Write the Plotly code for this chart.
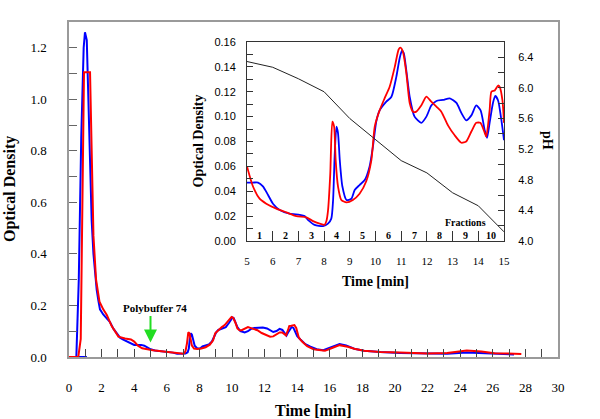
import plotly.graph_objects as go

# ---------------- main chart data (Time [min], Optical Density) ----------------
main_blue_t = [0, 1.1, 0.45, 0.6, 0.75, 0.9, 0.98, 1.09, 1.2, 1.3, 1.39, 1.5, 1.6, 1.7, 1.8, 1.9,
               2.1, 2.3, 2.52, 2.72, 2.93, 3.13, 3.3, 3.6, 3.9,
               4.0, 4.23, 4.43, 4.62, 4.82, 5.01, 5.27, 5.66, 6.05, 6.24, 6.37, 6.63, 6.96, 7.15,
               7.28, 7.35, 7.41, 7.48, 7.54, 7.61, 7.71, 7.87, 8.06, 8.19, 8.38, 8.58, 8.77, 8.90,
               9.03, 9.16, 9.42, 9.62, 9.81, 9.94, 10.03, 10.10, 10.2, 10.33, 10.52, 10.78, 10.98,
               11.17, 11.37, 11.63, 11.89, 12.15, 12.34, 12.53, 12.73, 12.92, 13.09, 13.25, 13.34,
               13.44, 13.57, 13.66, 13.77, 13.90, 14.0,
               14.2, 14.5, 14.81, 15.2, 15.6, 16.0, 16.6, 17.0, 17.5, 18.1, 19.1, 20.3, 22.0, 23.2,
               24.4, 25.3, 26.1, 27.3]
main_blue_v = [0, 0, 0, 0.3, 0.85, 1.2, 1.26, 1.23, 1.0, 0.75, 0.53, 0.40, 0.325, 0.26, 0.22, 0.185,
               0.165, 0.15, 0.135, 0.11, 0.09, 0.075, 0.068, 0.06, 0.052,
               0.047, 0.047, 0.047, 0.044, 0.037, 0.030, 0.025, 0.022, 0.021, 0.020, 0.017, 0.013, 0.012, 0.014,
               0.018, 0.033, 0.068, 0.092, 0.087, 0.065, 0.044, 0.033, 0.034, 0.041, 0.045, 0.049, 0.060, 0.076,
               0.096, 0.105, 0.112, 0.116, 0.132, 0.147, 0.153, 0.151, 0.137, 0.116, 0.100, 0.095, 0.100,
               0.109, 0.1126, 0.1134, 0.1147, 0.111, 0.103, 0.097, 0.101, 0.109, 0.105, 0.089, 0.083,
               0.095, 0.111, 0.1166, 0.113, 0.097, 0.081,
               0.068, 0.05, 0.04, 0.03, 0.026, 0.035, 0.05, 0.045, 0.032, 0.024, 0.019, 0.016, 0.013, 0.013,
               0.017, 0.015, 0.011, 0.010]

main_red_t = [0, 0.57, 0.72, 0.92, 1.29, 1.39, 1.5, 1.66, 1.87, 2.1, 2.32, 2.62, 3.03, 3.44, 3.8,
              4.0, 4.23, 4.49, 4.75, 5.14, 5.53, 5.92, 6.31, 6.57, 6.83, 7.02, 7.09, 7.15, 7.24, 7.32,
              7.39, 7.45, 7.54, 7.67, 7.87, 8.12, 8.38, 8.64, 8.84, 8.97, 9.16, 9.36, 9.55, 9.75, 9.90,
              9.97, 10.07, 10.2, 10.33, 10.46, 10.59, 10.78, 10.98, 11.17, 11.37, 11.56, 11.82, 12.08,
              12.34, 12.53, 12.73, 12.92, 13.08, 13.25, 13.31, 13.44, 13.51, 13.64, 13.77, 13.83, 13.94, 14.0,
              14.1, 14.3, 14.61, 15.0, 15.4, 15.7, 16.1, 16.6, 17.1, 17.5, 18.1, 19.1, 20.3, 22.0, 23.2,
              24.4, 25.3, 26.1, 27.75]
main_red_v = [0, 0, 0.07, 1.105, 1.105, 0.79, 0.47, 0.30, 0.215, 0.185, 0.163, 0.12, 0.079, 0.072, 0.068,
              0.060, 0.044, 0.034, 0.030, 0.026, 0.023, 0.020, 0.019, 0.016, 0.014, 0.013, 0.016, 0.024, 0.054, 0.096,
              0.092, 0.065, 0.044, 0.033, 0.031, 0.033, 0.038, 0.048, 0.065, 0.092, 0.105, 0.115, 0.124, 0.140, 0.154,
              0.1555, 0.152, 0.135, 0.111, 0.104, 0.104, 0.109, 0.116, 0.112, 0.108, 0.104, 0.093, 0.085,
              0.079, 0.080, 0.088, 0.095, 0.095, 0.087, 0.084, 0.105, 0.120, 0.121, 0.125, 0.124, 0.113, 0.095,
              0.075, 0.06, 0.042, 0.03, 0.025, 0.024, 0.034, 0.046, 0.040, 0.032, 0.024, 0.019, 0.017, 0.014, 0.016,
              0.025, 0.021, 0.015, 0.012]

# ---------------- inset data (Time [min], Optical Density / pH) ----------------
inset_blue_t = [5.0, 5.23, 5.43, 5.62, 5.82, 6.01, 6.27, 6.66, 7.05, 7.24, 7.37, 7.63, 7.96, 8.15, 8.28,
                8.35, 8.41, 8.48, 8.54, 8.61, 8.71, 8.87, 9.06, 9.19, 9.38, 9.58, 9.77, 9.90, 10.03,
                10.16, 10.42, 10.62, 10.81, 10.94, 11.03, 11.10, 11.2, 11.33, 11.52, 11.78, 11.98,
                12.17, 12.37, 12.63, 12.89, 13.15, 13.34, 13.53, 13.73, 13.92, 14.09, 14.25, 14.34,
                14.44, 14.57, 14.66, 14.77, 14.90, 15.0]
inset_blue_v = [0.047, 0.047, 0.047, 0.044, 0.037, 0.030, 0.025, 0.022, 0.021, 0.020, 0.017, 0.013, 0.012, 0.014, 0.018,
                0.033, 0.068, 0.092, 0.087, 0.065, 0.044, 0.033, 0.034, 0.041, 0.045, 0.049, 0.060, 0.076, 0.096,
                0.105, 0.112, 0.116, 0.132, 0.147, 0.153, 0.151, 0.137, 0.116, 0.100, 0.095, 0.100,
                0.109, 0.1126, 0.1134, 0.1147, 0.111, 0.103, 0.097, 0.101, 0.109, 0.105, 0.089, 0.083,
                0.095, 0.111, 0.1166, 0.113, 0.097, 0.081]

inset_red_t = [5.0, 5.23, 5.49, 5.75, 6.14, 6.53, 6.92, 7.31, 7.57, 7.83, 8.02, 8.09, 8.15, 8.24, 8.32,
               8.39, 8.45, 8.54, 8.67, 8.87, 9.12, 9.38, 9.64, 9.84, 9.97, 10.16, 10.36, 10.55, 10.75,
               10.90, 10.97, 11.07, 11.2, 11.33, 11.46, 11.59, 11.78, 11.98, 12.17, 12.37, 12.56, 12.82,
               13.08, 13.34, 13.53, 13.73, 13.92, 14.08, 14.25, 14.31, 14.44, 14.51, 14.64, 14.77, 14.83,
               14.94, 15.0]
inset_red_v = [0.060, 0.044, 0.034, 0.030, 0.026, 0.023, 0.020, 0.019, 0.016, 0.014, 0.013, 0.016, 0.024, 0.054, 0.096,
               0.092, 0.065, 0.044, 0.033, 0.031, 0.033, 0.038, 0.048, 0.065, 0.092, 0.105, 0.115, 0.124, 0.140,
               0.154, 0.1555, 0.152, 0.135, 0.111, 0.104, 0.104, 0.109, 0.116, 0.112, 0.108, 0.104, 0.093,
               0.085, 0.079, 0.080, 0.088, 0.095, 0.095, 0.087, 0.084, 0.105, 0.120, 0.121, 0.125, 0.124,
               0.113, 0.095]

ph_t = [5, 6, 7, 8, 9, 10, 11, 12, 13, 14, 15]
ph_v = [6.345, 6.27, 6.12, 5.95, 5.60, 5.32, 5.05, 4.89, 4.63, 4.46, 4.12]

fraction_labels = ["1", "2", "3", "4", "5", "6", "7", "8", "9", "10"]
fraction_centers = [5.5, 6.5, 7.5, 8.5, 9.5, 10.5, 11.5, 12.5, 13.5, 14.5]

main_xticks = list(range(0, 31, 2))
inset_xticks = list(range(5, 16))

SERIF = "Liberation Serif"
SANS = "Liberation Sans"
BLUE = "#0000ff"
RED = "#ff0000"

fig = go.Figure()

# main traces
fig.add_trace(go.Scatter(x=main_blue_t, y=main_blue_v, mode="lines",
                         line=dict(color=BLUE, width=2), xaxis="x", yaxis="y", showlegend=False))
fig.add_trace(go.Scatter(x=main_red_t, y=main_red_v, mode="lines",
                         line=dict(color=RED, width=2), xaxis="x", yaxis="y", showlegend=False))

# inset traces
fig.add_trace(go.Scatter(x=ph_t, y=ph_v, mode="lines",
                         line=dict(color="#222222", width=1), xaxis="x2", yaxis="y3", showlegend=False))
fig.add_trace(go.Scatter(x=inset_blue_t, y=inset_blue_v, mode="lines",
                         line=dict(color=BLUE, width=1.8, shape="spline", smoothing=0.6),
                         xaxis="x2", yaxis="y2", showlegend=False))
fig.add_trace(go.Scatter(x=inset_red_t, y=inset_red_v, mode="lines",
                         line=dict(color=RED, width=1.8, shape="spline", smoothing=0.6),
                         xaxis="x2", yaxis="y2", showlegend=False))

W, H = 600, 419
PLOT_LEFT, PLOT_RIGHT, PLOT_TOP, PLOT_BOTTOM = 69, 558, 22, 357   # screen px
L = PLOT_LEFT
R = W - PLOT_RIGHT
T = PLOT_TOP
B = H - PLOT_BOTTOM
pw = PLOT_RIGHT - PLOT_LEFT
ph = PLOT_BOTTOM - PLOT_TOP


def px2paper_x(px):
    return (px - PLOT_LEFT) / pw


def px2paper_y(py):
    return (PLOT_BOTTOM - py) / ph


annotations = [
    # main axis titles
    dict(text="<b>Optical Density</b>", x=px2paper_x(10), y=px2paper_y(189), xref="paper", yref="paper",
         textangle=-90, showarrow=False, font=dict(family=SERIF, size=16, color="black"),
         xanchor="center", yanchor="middle"),
    dict(text="<b>Time [min]</b>", x=0.5, y=px2paper_y(410), xref="paper", yref="paper",
         showarrow=False, font=dict(family=SERIF, size=16, color="black"),
         xanchor="center", yanchor="middle"),
    # inset axis titles
    dict(text="<b>Optical Density</b>", x=px2paper_x(198), y=px2paper_y(141.5), xref="paper", yref="paper",
         textangle=-90, showarrow=False, font=dict(family=SERIF, size=14, color="black"),
         xanchor="center", yanchor="middle"),
    dict(text="<b>Time [min]</b>", x=px2paper_x(375), y=px2paper_y(281), xref="paper", yref="paper",
         showarrow=False, font=dict(family=SERIF, size=14, color="black"),
         xanchor="center", yanchor="middle"),
    dict(text="<b>pH</b>", x=px2paper_x(548), y=px2paper_y(140), xref="paper", yref="paper",
         textangle=90, showarrow=False, font=dict(family=SERIF, size=14, color="black"),
         xanchor="center", yanchor="middle"),
    # Polybuffer arrow and label
    dict(text="", x=5.0, y=0.056, xref="x", yref="y", ax=0, ay=-28, showarrow=True,
         arrowhead=2, arrowsize=1.3, arrowwidth=2, arrowcolor="#22dd22"),
    dict(text="<b>Polybuffer 74</b>", x=5.29, y=0.191, xref="x", yref="y", showarrow=False,
         font=dict(family=SERIF, size=11, color="black"), xanchor="center", yanchor="middle"),
    dict(text="<b>Fractions</b>", x=13.52, y=0.0145, xref="x2", yref="y2", showarrow=False,
         font=dict(family=SERIF, size=10, color="black"), xanchor="center", yanchor="middle"),
]
for lab, c in zip(fraction_labels, fraction_centers):
    annotations.append(dict(text="<b>%s</b>" % lab, x=c, y=0.0048, xref="x2", yref="y2", showarrow=False,
                            font=dict(family=SERIF, size=10, color="black"),
                            xanchor="center", yanchor="middle"))

fig.update_layout(
    width=W, height=H,
    margin=dict(l=L, r=R, t=T, b=B, pad=0, autoexpand=False),
    paper_bgcolor="white", plot_bgcolor="white",
    showlegend=False,
    xaxis=dict(domain=[0, 1], range=[0, 30], anchor="y", automargin=False,
               tickmode="array", tickvals=main_xticks, ticktext=[str(v) for v in main_xticks],
               ticks="inside", ticklen=8, tickwidth=1, tickcolor="#444444",
               minor=dict(dtick=1, tick0=0, ticks="inside", ticklen=8, tickcolor="#444444", tickwidth=1),
               showline=True, linecolor="#9a9a9a", linewidth=1.5, mirror=True,
               showgrid=False, zeroline=False, ticklabelstandoff=18,
               tickfont=dict(family=SERIF, size=13, color="black")),
    yaxis=dict(domain=[0, 1], range=[0, 1.3], anchor="x", automargin=False,
               tickmode="linear", tick0=0, dtick=0.2, tickformat=".1f",
               ticks="inside", ticklen=8, tickwidth=1, tickcolor="#666666",
               minor=dict(dtick=0.1, tick0=0, ticks="inside", ticklen=8, tickcolor="#666666", tickwidth=1),
               showline=True, linecolor="#9a9a9a", linewidth=1.5, mirror=True,
               showgrid=False, zeroline=False, ticklabelstandoff=18,
               tickfont=dict(family=SERIF, size=13, color="black")),
    xaxis2=dict(domain=[px2paper_x(247), px2paper_x(504)], range=[5, 15], anchor="y2", automargin=False,
                tickmode="array", tickvals=inset_xticks, ticktext=[str(v) for v in inset_xticks],
                ticks="inside", ticklen=10, tickwidth=1, tickcolor="#333333",
                showline=True, linecolor="#333333", linewidth=1, mirror=True,
                showgrid=False, zeroline=False, ticklabelstandoff=10,
                tickfont=dict(family=SERIF, size=11, color="black")),
    yaxis2=dict(domain=[px2paper_y(241), px2paper_y(42)], range=[0, 0.16], anchor="x2", automargin=False,
                tickmode="linear", tick0=0, dtick=0.02, tickformat=".2f",
                ticks="inside", ticklen=6, tickwidth=1, tickcolor="#333333",
                minor=dict(dtick=0.01, tick0=0, ticks="inside", ticklen=6, tickcolor="#333333", tickwidth=1),
                showline=True, linecolor="#333333", linewidth=1, mirror=True,
                showgrid=False, zeroline=False, ticklabelstandoff=8,
                tickfont=dict(family=SANS, size=11, color="black")),
    yaxis3=dict(overlaying="y2", side="right", anchor="x2", range=[4.0, 6.6], automargin=False,
                tickmode="linear", tick0=4.0, dtick=0.4, tickformat=".1f",
                ticks="inside", ticklen=6, tickwidth=1, tickcolor="#333333",
                minor=dict(dtick=0.2, tick0=4.0, ticks="inside", ticklen=6, tickcolor="#333333", tickwidth=1),
                showline=True, linecolor="#333333", linewidth=1,
                showgrid=False, zeroline=False, ticklabelstandoff=11,
                tickfont=dict(family=SANS, size=11, color="black")),
    annotations=annotations,
)

# remove the default 8px page margin so the figure fills the 600x419 window exactly
fig.write_html("out.html",
               config={"displayModeBar": False},
               post_script="document.body.style.margin='0px';document.body.style.overflow='hidden';")
